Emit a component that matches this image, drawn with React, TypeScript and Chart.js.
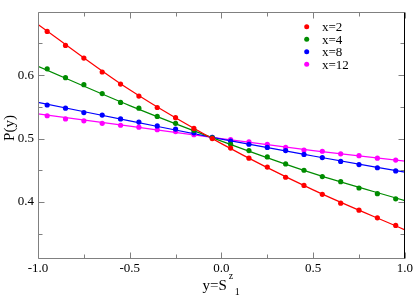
import React, { useEffect, useRef } from 'react';
import { Chart, registerables } from 'chart.js';
Chart.register(...registerables);

// sampled y = S^z_1 positions of the data points
const sampleY = [-0.95, -0.85, -0.75, -0.65, -0.55, -0.45, -0.35, -0.25, -0.15, -0.05,
  0.05, 0.15, 0.25, 0.35, 0.45, 0.55, 0.65, 0.75, 0.85, 0.95];

const seriesNames = ['x=2', 'x=4', 'x=8', 'x=12'];
const seriesColors = ['#ff0000', '#008c00', '#0000ff', '#ff00ff'];

const pointsX2 = [0.669, 0.647, 0.627, 0.605, 0.586, 0.567, 0.549, 0.533, 0.516, 0.500,
  0.485, 0.469, 0.455, 0.439, 0.426, 0.412, 0.398, 0.387, 0.375, 0.363];
const pointsX4 = [0.610, 0.596, 0.585, 0.571, 0.557, 0.548, 0.535, 0.524, 0.513, 0.501,
  0.491, 0.481, 0.471, 0.460, 0.450, 0.440, 0.432, 0.422, 0.413, 0.405];
const pointsX8 = [0.553, 0.548, 0.541, 0.537, 0.531, 0.526, 0.520, 0.515, 0.509, 0.502,
  0.496, 0.491, 0.486, 0.481, 0.475, 0.470, 0.464, 0.459, 0.454, 0.449];
const pointsX12 = [0.536, 0.531, 0.528, 0.524, 0.521, 0.518, 0.514, 0.511, 0.506, 0.502,
  0.4985, 0.495, 0.491, 0.486, 0.482, 0.480, 0.476, 0.473, 0.469, 0.466];

// fitted curves
const fitY = [-1, -0.5, 0, 0.5, 1];
const fitX2 = [0.680, 0.577, 0.492, 0.419, 0.356];
const fitX4 = [0.614, 0.552, 0.496, 0.445, 0.402];
const fitX8 = [0.557, 0.528, 0.499, 0.4725, 0.447];
const fitX12 = [0.539, 0.5195, 0.500, 0.481, 0.4645];

const xTicks = [-1, -0.5, 0, 0.5, 1];
const xMinorTicks = [-0.75, -0.25, 0.25, 0.75];
const yTicks = [0.4, 0.5, 0.6];
const yMinorTicks = [0.35, 0.45, 0.55, 0.65];

const SERIF = "'Liberation Serif', 'DejaVu Serif', serif";

const framePlugin = {
  id: 'frame',
  afterDatasetsDraw(chart: any) {
    const { ctx, chartArea } = chart;
    const { left, right, top, bottom } = chartArea;
    const xs = chart.scales.x;
    const ys = chart.scales.y;
    const L = Math.round(left) + 0.5;
    const R = Math.round(right) - 0.5;
    const T = Math.round(top) + 0.5;
    const B = Math.round(bottom) - 0.5;
    ctx.save();
    ctx.lineWidth = 1;
    ctx.strokeStyle = '#808080';
    ctx.beginPath();
    const major = 6, minor = 4;
    xTicks.forEach(v => {
      const p = Math.round(xs.getPixelForValue(v)) + 0.5;
      ctx.moveTo(p, B); ctx.lineTo(p, B - major);
      ctx.moveTo(p, T); ctx.lineTo(p, T + major);
    });
    xMinorTicks.forEach(v => {
      const p = Math.round(xs.getPixelForValue(v)) + 0.5;
      ctx.moveTo(p, B); ctx.lineTo(p, B - minor);
      ctx.moveTo(p, T); ctx.lineTo(p, T + minor);
    });
    yTicks.forEach(v => {
      const p = Math.round(ys.getPixelForValue(v)) + 0.5;
      ctx.moveTo(L, p); ctx.lineTo(L + major, p);
      ctx.moveTo(R, p); ctx.lineTo(R - major, p);
    });
    yMinorTicks.forEach(v => {
      const p = Math.round(ys.getPixelForValue(v)) + 0.5;
      ctx.moveTo(L, p); ctx.lineTo(L + minor, p);
      ctx.moveTo(R, p); ctx.lineTo(R - minor, p);
    });
    ctx.stroke();
    // frame
    ctx.beginPath();
    ctx.moveTo(L, T); ctx.lineTo(R, T);
    ctx.moveTo(L, T); ctx.lineTo(L, B); ctx.lineTo(R, B);
    ctx.stroke();
    ctx.strokeStyle = '#000000';
    ctx.beginPath();
    ctx.moveTo(R, T); ctx.lineTo(R, B);
    ctx.stroke();

    // legend
    ctx.font = `13px ${SERIF}`;
    ctx.textBaseline = 'middle';
    ctx.textAlign = 'left';
    seriesNames.forEach((name, i) => {
      const cy = 26.7 + i * 12.5;
      ctx.fillStyle = seriesColors[i];
      ctx.beginPath();
      ctx.arc(306.7, cy, 2.5, 0, Math.PI * 2);
      ctx.fill();
      ctx.fillStyle = '#000';
      ctx.fillText(name, 322, cy + 1);
    });

    // y axis title
    ctx.save();
    ctx.translate(14, 128);
    ctx.rotate(-Math.PI / 2);
    ctx.font = `15px ${SERIF}`;
    ctx.textAlign = 'center';
    ctx.textBaseline = 'alphabetic';
    ctx.fillStyle = '#000';
    ctx.fillText('P(y)', 0, 0);
    ctx.restore();

    // x axis title: y=S^z_1
    const cx = xs.getPixelForValue(0);
    ctx.font = `15px ${SERIF}`;
    ctx.textAlign = 'left';
    ctx.textBaseline = 'alphabetic';
    ctx.fillStyle = '#000';
    const base = 'y=S';
    const bw = ctx.measureText(base).width;
    const x0 = cx - 19;
    ctx.fillText(base, x0, 290);
    ctx.font = `10px ${SERIF}`;
    ctx.fillText('z', x0 + bw + 2, 279);
    ctx.fillText('1', x0 + bw + 8, 295);
    ctx.restore();
  },
};

export default function App() {
  const ref = useRef<HTMLCanvasElement>(null);
  useEffect(() => {
    document.body.style.margin = '0';
    const canvas = ref.current!;
    const pointSets = [pointsX2, pointsX4, pointsX8, pointsX12];
    const fitSets = [fitX2, fitX4, fitX8, fitX12];
    const datasets: any[] = [];
    pointSets.forEach((vals, i) => {
      datasets.push({
        label: seriesNames[i],
        data: sampleY.map((s, j) => ({ x: s, y: vals[j] })),
        showLine: false,
        pointRadius: 2.6,
        pointBackgroundColor: seriesColors[i],
        pointBorderWidth: 0,
        order: 0,
      });
    });
    fitSets.forEach((vals, i) => {
      datasets.push({
        label: seriesNames[i] + ' fit',
        data: fitY.map((s, j) => ({ x: s, y: vals[j] })),
        showLine: true,
        pointRadius: 0,
        borderColor: seriesColors[i],
        borderWidth: 1.2,
        cubicInterpolationMode: 'monotone',
        order: 1,
      });
    });
    const chart = new Chart(canvas, {
      type: 'scatter',
      data: { datasets },
      options: {
        animation: false,
        responsive: false,
        devicePixelRatio: 1,
        layout: { padding: { top: 1, right: 8, left: 0, bottom: 0 } },
        plugins: { legend: { display: false }, tooltip: { enabled: false } },
        scales: {
          x: {
            type: 'linear',
            min: -1,
            max: 1,
            grid: { display: false, drawTicks: false },
            border: { display: false },
            afterBuildTicks: (s: any) => { s.ticks = xTicks.map(v => ({ value: v })); },
            afterFit: (s: any) => { s.height = 38; },
            ticks: {
              padding: 2,
              color: '#000',
              font: { family: SERIF, size: 13 },
              callback: (v: any) => Number(v).toFixed(1),
            },
          },
          y: {
            type: 'linear',
            min: 0.31,
            max: 0.70,
            grid: { display: false, drawTicks: false },
            border: { display: false },
            afterBuildTicks: (s: any) => { s.ticks = yTicks.map(v => ({ value: v })); },
            afterFit: (s: any) => { s.width = 38; },
            ticks: {
              padding: 4,
              color: '#000',
              font: { family: SERIF, size: 13 },
              callback: (v: any) => Number(v).toFixed(1),
            },
          },
        },
      },
      plugins: [framePlugin],
    });
    return () => chart.destroy();
  }, []);
  return <canvas ref={ref} width={415} height={297} style={{ display: 'block' }} />;
}
